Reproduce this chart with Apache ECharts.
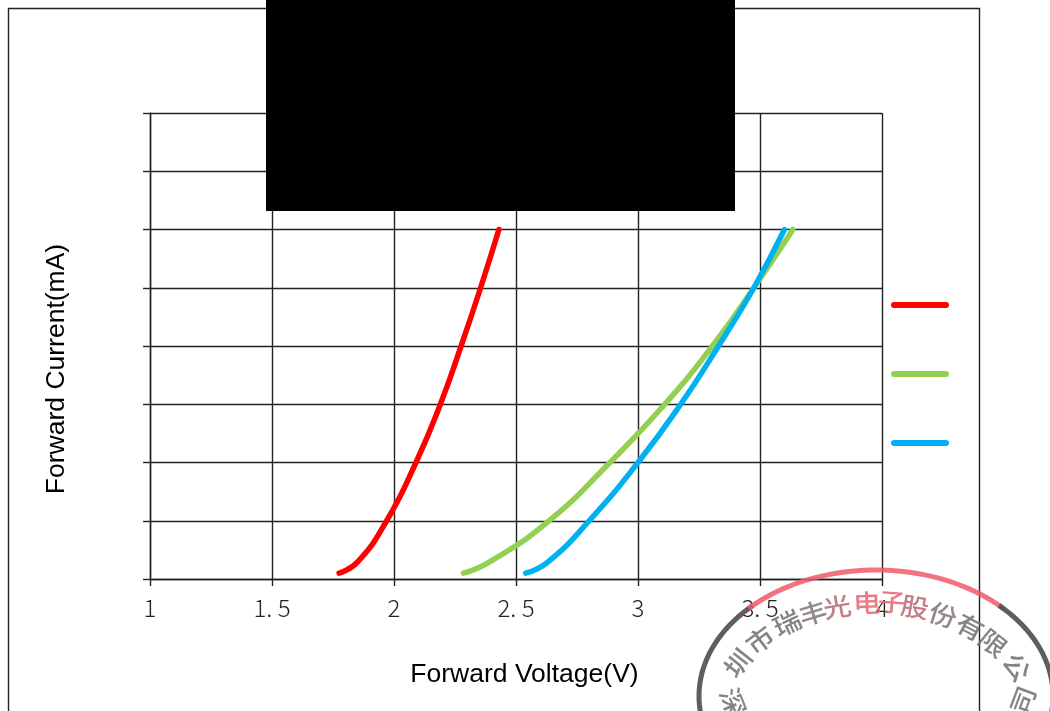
<!DOCTYPE html>
<html>
<head>
<meta charset="utf-8">
<style>html,body{margin:0;padding:0;background:#fff}#c{width:1050px;height:711px}</style>
<script src="https://cdn.jsdelivr.net/npm/echarts@6/dist/echarts.min.js"></script>
</head>
<body>
<div id="c"></div>
<script>
var xTickLabels = {'1':'1','1.5':'1. 5','2':'2','2.5':'2. 5','3':'3','3.5':'3. 5','4':'4'};
var seriesColors = ['#ff0000', '#92d050', '#00b0f0'];
var redCurve = [[1.775,0.5],[1.85,1.45],[1.97,5],[2.09,10],[2.19,15],[2.275,20],[2.355,25],[2.43,30]];
var greenCurve = [[2.285,0.5],[2.39,1.45],[2.63,4.9],[2.885,10],[3.11,15],[3.305,20],[3.475,25],[3.635,30]];
var blueCurve = [[2.54,0.5],[2.63,1.45],[2.80,5],[3.0,10],[3.175,15],[3.33,20],[3.475,25],[3.60,30]];
var xAxisTitle = 'Forward Voltage(V)';
var yAxisTitle = 'Forward Current(mA)';
var stampChars = [['深',733,702,'#777'],['圳',738,663,'#777'],['市',760,640,'#777'],['瑞',787,623,'#777'],['丰',813,613,'#8a7a7e'],['光',837,607,'#b8707c'],['电',867,603,'#e56a78'],['子',892,602,'#e86a78'],['股',915,607,'#c06e7a'],['份',943,615,'#8a7a7e'],['有',970,627,'#777'],['限',993,643,'#777'],['公',1017,667,'#777'],['司',1023,700,'#777']];

var CX = 876, CY = 696, RX = 177, RY = 126;
function ellipsePts(fromDeg, toDeg) {
  var pts = [];
  for (var d = fromDeg; d <= toDeg; d += 2) {
    var a = d * Math.PI / 180;
    pts.push([CX + RX * Math.cos(a), CY + RY * Math.sin(a)]);
  }
  return pts;
}
var graphics = [
  {type:'rect', z:1, silent:true, shape:{x:8.5,y:8.5,width:971,height:720}, style:{fill:null,stroke:'#222',lineWidth:1.4}},
  {type:'polyline', z:50, silent:true, shape:{points:ellipsePts(90,226)}, style:{fill:null,stroke:'#555',lineWidth:5,opacity:0.95}},
  {type:'polyline', z:50, silent:true, shape:{points:ellipsePts(224,316)}, style:{fill:null,stroke:'#ee5a6c',lineWidth:5,opacity:0.85}},
  {type:'polyline', z:50, silent:true, shape:{points:ellipsePts(314,370)}, style:{fill:null,stroke:'#555',lineWidth:5,opacity:0.95}},
  {type:'line', z:60, silent:true, shape:{x1:894,y1:305,x2:946,y2:305}, style:{stroke:seriesColors[0],lineWidth:6,lineCap:'round'}},
  {type:'line', z:60, silent:true, shape:{x1:894,y1:374,x2:946,y2:374}, style:{stroke:seriesColors[1],lineWidth:6,lineCap:'round'}},
  {type:'line', z:60, silent:true, shape:{x1:894,y1:443,x2:946,y2:443}, style:{stroke:seriesColors[2],lineWidth:6,lineCap:'round'}},
  {type:'rect', z:100, silent:true, shape:{x:266,y:0,width:469,height:211}, style:{fill:'#000'}}
];
stampChars.forEach(function (c) {
  var dx = c[1] - CX, dy = c[2] - CY;
  var rot = Math.abs(dy) < 1 ? Math.PI / 2 * (dx > 0 ? -1 : 1)
    : -Math.atan(-(dx / (RX * RX)) / (dy / (RY * RY)));
  graphics.push({type:'text', z:55, silent:true, x:c[1], y:c[2], rotation:rot*0.8, scaleY:0.9,
    style:{text:c[0], font:'500 28px "Noto Sans CJK SC"', align:'center', verticalAlign:'middle', fill:c[3], opacity:0.9}});
});

var chart = echarts.init(document.getElementById('c'), null, {renderer:'canvas'});
var lineStyleOf = function (i) { return {color:seriesColors[i], width:5.5, cap:'round', join:'round'}; };
chart.setOption({
  animation:false,
  backgroundColor:'#fff',
  grid:{left:150,right:168,top:113,bottom:132,show:false},
  xAxis:{
    type:'value', min:1, max:4, interval:0.5,
    name:xAxisTitle, nameLocation:'middle', nameGap:82,
    nameTextStyle:{fontFamily:'Liberation Sans',fontSize:26.5,color:'#000',padding:[0,0,0,17]},
    axisLine:{show:true,lineStyle:{color:'#222',width:1.4}},
    axisTick:{show:true,length:7,lineStyle:{color:'#222',width:1.4}},
    axisLabel:{fontFamily:'Noto Sans CJK JP',fontWeight:300,fontSize:24,color:'#222',margin:17,
      formatter:function (v) { return xTickLabels[String(v)]; }},
    splitLine:{show:true,lineStyle:{color:'#222',width:1.4}}
  },
  yAxis:{
    type:'value', min:0, max:40, interval:5,
    name:yAxisTitle, nameLocation:'middle', nameGap:80,
    nameTextStyle:{fontFamily:'Liberation Sans',fontSize:26.5,color:'#000',padding:[0,46,0,0]},
    axisLine:{show:true,onZero:false,lineStyle:{color:'#222',width:1.4}},
    axisTick:{show:true,length:7,lineStyle:{color:'#222',width:1.4}},
    axisLabel:{show:false},
    splitLine:{show:true,lineStyle:{color:'#222',width:1.4}}
  },
  graphic:{elements:graphics},
  series:[
    {type:'line',name:'Red',data:redCurve,smooth:0.5,symbol:'none',clip:false,z:10,lineStyle:lineStyleOf(0)},
    {type:'line',name:'Green',data:greenCurve,smooth:0.5,symbol:'none',clip:false,z:11,lineStyle:lineStyleOf(1)},
    {type:'line',name:'Blue',data:blueCurve,smooth:0.5,symbol:'none',clip:false,z:12,lineStyle:lineStyleOf(2)}
  ]
});
</script>
</body>
</html>
